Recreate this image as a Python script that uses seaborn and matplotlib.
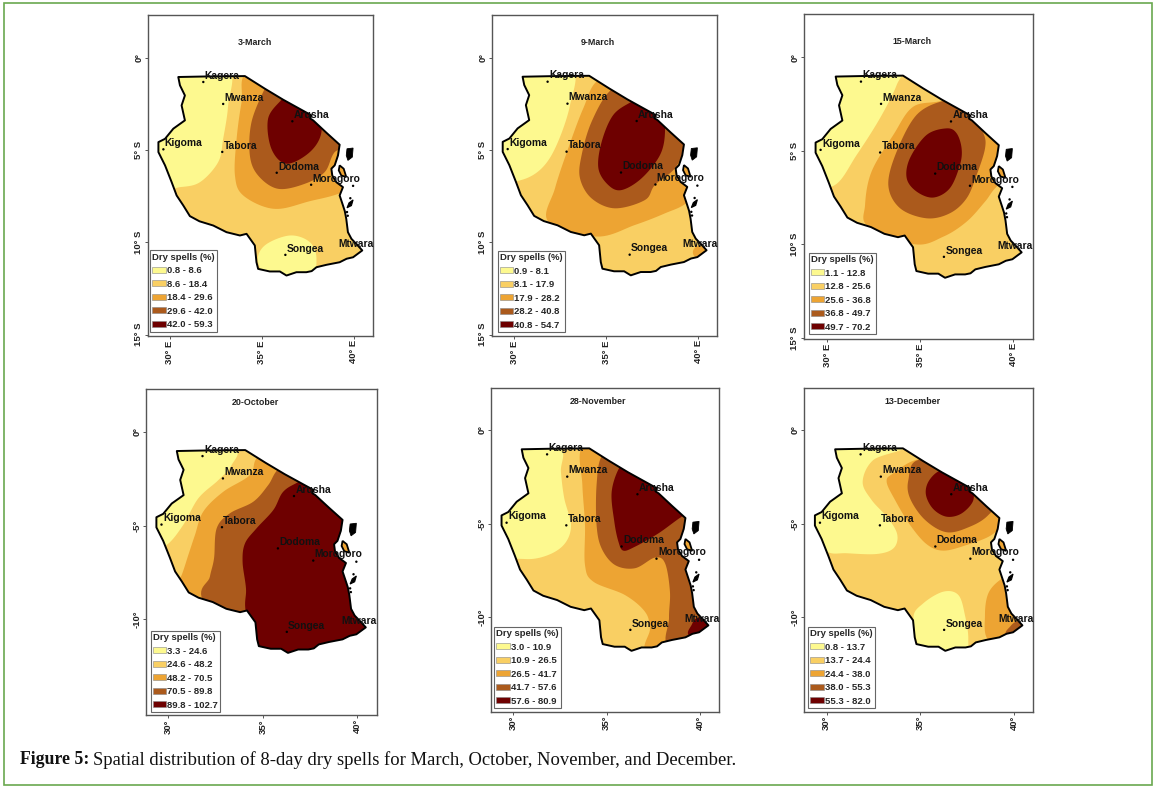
import numpy as np
import pandas as pd
import matplotlib
matplotlib.use("Agg")
import matplotlib.pyplot as plt
from matplotlib.patches import Polygon, Patch, Rectangle
import seaborn as sns

# ---------------- data (lon, lat) -----------------
COAST = [(30.45,-1.03),(32.0,-1.0),(34.07,-0.98),(35.15,-1.66),(36.15,-2.26),(37.69,-3.11),(37.62,-3.28),(37.78,-3.38),
 (38.5,-4.05),(39.22,-4.70),(39.13,-5.28),(38.95,-5.82),(38.77,-6.0),(38.82,-6.37),(39.04,-6.73),(39.40,-7.00),(39.22,-7.45),(39.40,-7.99),
 (39.5,-8.3),(39.58,-8.72),(39.67,-9.44),(39.86,-9.80),(40.1,-10.05),(40.45,-10.43),(39.95,-10.80),(39.6,-10.88),(39.22,-11.07),(38.50,-11.21),
 (37.96,-11.34),(37.7,-11.55),(37.41,-11.61),(36.87,-11.61),(36.33,-11.79),(35.97,-11.57),(35.42,-11.57),(34.79,-11.43),
 (34.70,-11.07),(34.61,-10.16),(34.16,-9.53),(33.80,-9.62),(33.07,-9.44),(32.35,-9.08),(31.6,-8.85),(31.08,-8.57),
 (30.72,-7.99),(30.36,-7.45),(30.09,-6.73),(29.73,-5.82),(29.37,-5.10),(29.37,-4.56),(29.73,-4.38),
 (30.18,-3.83),(30.81,-3.38),(30.63,-2.57),(30.81,-2.03),(30.54,-1.48)]
PEMBA = [(39.62,-4.92),(39.95,-4.88),(39.91,-5.37),(39.67,-5.55),(39.58,-5.28)]
ZANZIBAR = [(39.22,-5.82),(39.44,-6.0),(39.58,-6.45),(39.31,-6.37),(39.17,-6.09)]
MAFIA = [(39.95,-7.69),(39.86,-8.0),(39.62,-8.12),(39.73,-7.85)]
ISLET_LON = [39.80, 39.62, 39.66, 39.95]
ISLET_LAT = [-7.60, -8.35, -8.55, -6.93]

CITIES = ["Kagera","Mwanza","Arusha","Kigoma","Tabora","Dodoma","Morogoro","Songea"]
CITY_LON = [31.81,32.89,36.65,29.64,32.84,35.80,37.67,36.27]
CITY_LAT = [-1.30,-2.49,-3.43,-4.95,-5.09,-6.22,-6.87,-10.67]
MTWARA = ("Mtwara", 39.15, -10.10)

MAR3_Y1 = [(33.16,-0.58),(33.16,-2.57),(32.89,-4.38),(32.62,-5.64),(31.63,-6.73),(30.54,-7.0),(29.46,-7.0),(28.9,-4.38),(30.18,-0.58)]
MAR3_Y2 = [(34.79,-11.07),(35.15,-10.16),(36.51,-9.62),(37.6,-9.98),(37.96,-10.88),(37.6,-11.88),(35.6,-12.15)]
MAR3_O = [(34.25,-0.76),(33.89,-2.39),(33.62,-4.38),(33.53,-6.37),(33.98,-7.45),(35.6,-8.17),(37.41,-7.81),(39.95,-6.91),(41.03,-4.38),(37.41,-0.76)]
MAR3_B = [(35.15,-1.66),(34.43,-3.47),(34.34,-5.28),(34.79,-6.37),(35.87,-7.09),(37.32,-6.82),(38.41,-6.18),(38.95,-5.1),(39.95,-4.38),(37.41,-1.0),(35.6,-1.0)]
MAR3_D = [(36.06,-2.26),(35.33,-3.29),(35.51,-4.92),(36.33,-5.73),(37.6,-5.1),(38.23,-4.01),(37.96,-2.57),(36.51,-1.84)]

MAR9_Y = [(33.12,-0.58),(33.03,-2.56),(32.30,-4.73),(31.49,-5.99),(30.40,-6.62),(29.13,-6.62),(28.95,-4.37),(30.22,-0.58)]
MAR9_O = [(34.57,-1.21),(33.75,-2.74),(32.93,-4.91),(32.21,-7.08),(31.85,-8.88),(34.47,-9.69),(36.56,-9.06),(38.19,-8.43),(39.46,-7.80),(41.09,-6.17),(41.09,-2.56),(36.56,-0.76)]
MAR9_O2 = [(39.82,-10.78),(39.73,-10.42),(40.09,-10.18),(41.0,-10.32),(40.5,-11.05)]
MAR9_B = [(35.2,-1.80),(34.20,-3.47),(33.66,-5.27),(33.57,-6.53),(34.20,-7.62),(35.47,-8.16),(37.10,-7.71),(37.64,-6.90),(38.73,-5.99),(39.37,-4.73),(40.18,-3.29),(36.56,-1.30)]
MAR9_D = [(36.38,-2.38),(35.38,-3.10),(34.75,-4.55),(34.57,-5.99),(35.11,-6.90),(35.83,-7.17),(36.92,-6.53),(37.92,-5.27),(38.19,-4.01),(38.0,-2.92),(37.1,-2.02)]

MAR15_Y = [(33.82,-0.59),(33.73,-1.48),(32.83,-3.26),(31.58,-5.22),(30.41,-6.83),(28.89,-6.83),(28.89,-4.33),(30.32,-0.59)]
MAR15_O = [(36.24,-2.28),(34.62,-2.64),(33.55,-4.15),(32.38,-6.11),(32.03,-7.90),(32.20,-9.05),(34.71,-10.0),(36.24,-9.59),(37.49,-8.79),(38.48,-7.72),(39.19,-6.83),(41.08,-5.22),(40.18,-2.55),(37.49,-1.30)]
MAR15_B = [(36.24,-2.34),(34.80,-3.08),(33.73,-5.04),(33.28,-6.83),(33.91,-8.07),(35.34,-8.61),(36.59,-8.34),(37.49,-7.54),(38.03,-6.29),(38.48,-4.87),(38.39,-4.06),(37.76,-3.17),(37.13,-2.55)]
MAR15_D = [(36.42,-3.80),(35.34,-4.15),(34.44,-5.40),(34.27,-6.47),(34.80,-7.18),(35.70,-7.50),(36.59,-7.0),(37.13,-5.76),(37.22,-4.87),(36.95,-4.06)]

OCT20_Y = [(33.44,-0.89),(33.35,-1.78),(32.65,-2.58),(31.59,-3.55),(30.79,-4.97),(29.91,-6.04),(28.85,-6.39),(28.85,-3.73),(30.26,-0.53)]
OCT20_O = [(34.76,-1.33),(34.32,-2.31),(32.91,-3.20),(31.85,-4.26),(31.41,-5.51),(31.06,-6.57),(30.71,-7.64),(30.09,-9.24),(35.56,-13.5),(41.9,-9.95),(41.9,-1.07),(36.44,-0.53)]
OCT20_B = [(35.87,-1.95),(35.29,-2.84),(34.50,-3.73),(33.26,-4.35),(32.56,-5.15),(32.42,-6.75),(32.20,-7.73),(31.94,-9.24),(35.56,-13.5),(41.9,-9.95),(41.9,-2.84),(37.32,-1.07)]
OCT20_D = [(36.93,-2.66),(36.08,-3.20),(35.56,-4.17),(34.67,-5.15),(34.06,-5.95),(33.93,-6.93),(34.11,-8.35),(34.18,-9.95),(35.56,-13.5),(41.9,-9.95),(41.9,-3.73),(38.38,-1.95)]

NOV28_Y = [(32.5,-0.98),(32.55,-2.22),(32.73,-3.65),(33.09,-5.07),(32.77,-6.05),(31.88,-6.67),(30.63,-6.89),(29.02,-6.49),(28.93,-4.36),(30.27,-0.62)]
NOV28_O = [(33.70,-0.89),(33.70,-2.94),(33.84,-5.07),(33.84,-7.21),(34.29,-8.10),(35.98,-8.81),(37.05,-9.70),(37.32,-10.59),(37.36,-12.01),(42.0,-12.0),(42.0,-1.16),(35.63,-0.62)]
NOV28_B = [(34.73,-1.42),(34.46,-2.94),(34.46,-5.07),(34.73,-6.32),(35.45,-7.21),(36.52,-7.38),(37.59,-6.81),(38.13,-7.12),(38.39,-8.63),(38.34,-10.05),(38.45,-11.65),(42.0,-11.65),(42.0,-2.0),(35.63,-1.16)]
NOV28_D = [(35.71,-1.96),(35.27,-3.29),(35.41,-4.89),(35.63,-5.96),(35.89,-6.44),(36.52,-6.23),(37.77,-5.52),(39.02,-4.63),(39.91,-4.18),(37.77,-2.40),(36.34,-1.51)]
NOV28_D2 = [(39.43,-10.98),(39.55,-10.41),(39.91,-10.02),(40.98,-10.05),(40.8,-11.3)]

DEC13_Y1 = [(34.09,-0.89),(32.49,-1.60),(31.92,-2.76),(32.40,-3.74),(33.29,-4.72),(33.77,-5.60),(33.56,-6.32),(32.67,-6.62),(31.07,-6.58),(30.0,-6.49),(28.93,-5.43),(28.93,-3.47),(30.36,-0.44)]
DEC13_Y2 = [(34.63,-10.05),(35.16,-9.25),(36.23,-8.63),(37.03,-8.81),(37.38,-9.88),(37.56,-11.21),(37.30,-12.37),(35.16,-11.83)]
DEC13_O1 = [(34.98,-1.55),(33.56,-2.31),(33.20,-2.76),(33.65,-3.74),(34.45,-5.07),(35.34,-6.10),(36.23,-6.44),(37.47,-6.14),(38.81,-5.60),(39.61,-4.72),(40.14,-3.65),(37.47,-1.69)]
DEC13_O2 = [(39.25,-8.01),(38.63,-8.72),(38.45,-9.88),(38.63,-11.21),(40.14,-11.65),(41.39,-10.05),(39.96,-7.74)]
DEC13_B1 = [(34.89,-1.60),(34.36,-2.67),(34.45,-3.65),(35.25,-4.80),(36.41,-5.46),(37.65,-5.16),(38.63,-4.54),(39.25,-3.47),(37.47,-1.87)]
DEC13_B2 = [(39.61,-10.94),(39.79,-10.50),(40.23,-10.20),(41.21,-10.23),(40.85,-11.30)]
DEC13_D = [(36.01,-2.19),(35.43,-2.76),(35.30,-3.47),(35.69,-4.22),(36.41,-4.63),(37.21,-4.45),(37.83,-3.74),(37.65,-2.94),(36.76,-2.22)]

TITLES = ["3-March","9-March","15-March","20-October","28-November","13-December"]
CLASSES_MAR3 = ["0.8 - 8.6","8.6 - 18.4","18.4 - 29.6","29.6 - 42.0","42.0 - 59.3"]
CLASSES_MAR9 = ["0.9 - 8.1","8.1 - 17.9","17.9 - 28.2","28.2 - 40.8","40.8 - 54.7"]
CLASSES_MAR15 = ["1.1 - 12.8","12.8 - 25.6","25.6 - 36.8","36.8 - 49.7","49.7 - 70.2"]
CLASSES_OCT20 = ["3.3 - 24.6","24.6 - 48.2","48.2 - 70.5","70.5 - 89.8","89.8 - 102.7"]
CLASSES_NOV28 = ["3.0 - 10.9","10.9 - 26.5","26.5 - 41.7","41.7 - 57.6","57.6 - 80.9"]
CLASSES_DEC13 = ["0.8 - 13.7","13.7 - 24.4","24.4 - 38.0","38.0 - 55.3","55.3 - 82.0"]

COLORS = ["#FDF98F","#F9CF63","#EDA433","#AB5A1C","#6E0000"]
CAPTION_HEAD = "Figure 5:"
CAPTION_BODY = "Spatial distribution of 8-day dry spells for March, October, November, and December."

# ---------------- layout -----------------
W, H = 1158, 790
LAYOUT = [
 (148,373,15,336,170,354,58,242.5,150,331.7,255,42.7),
 (492,717,15,336,514.3,698.3,57.7,242.3,497.7,332,598,42.7),
 (804,1033,14,339,827.3,1013.3,57.3,244.3,808.7,334,912,42),
 (146.5,377,389,715,168.3,357.3,431.7,619.3,150.7,712,255,402),
 (491,719,388,711.7,513.3,700,430,617.3,494,708,598,401),
 (804,1033,388,711.7,826.7,1014,430,617.3,808,708,913,401),
]
ZONES = [
 [(0,MAR3_Y1),(0,MAR3_Y2),(2,MAR3_O),(3,MAR3_B),(4,MAR3_D)],
 [(0,MAR9_Y),(2,MAR9_O),(2,MAR9_O2),(3,MAR9_B),(4,MAR9_D)],
 [(0,MAR15_Y),(2,MAR15_O),(3,MAR15_B),(4,MAR15_D)],
 [(0,OCT20_Y),(2,OCT20_O),(3,OCT20_B),(4,OCT20_D)],
 [(0,NOV28_Y),(2,NOV28_O),(3,NOV28_B),(4,NOV28_D),(4,NOV28_D2)],
 [(0,DEC13_Y1),(0,DEC13_Y2),(2,DEC13_O1),(2,DEC13_O2),(3,DEC13_B1),(3,DEC13_B2),(4,DEC13_D)],
]
CLASSES = [CLASSES_MAR3,CLASSES_MAR9,CLASSES_MAR15,CLASSES_OCT20,CLASSES_NOV28,CLASSES_DEC13]

sns.set_theme(style="white", rc={"xtick.bottom":True,"ytick.left":True,"axes.linewidth":1.0,"axes.edgecolor":"#555555"})
plt.rcParams["font.family"] = ["Liberation Sans","DejaVu Sans"]
palette = sns.color_palette(COLORS)

def smooth(pts, n=12):
    p = np.array(pts, float)
    out = []
    m = len(p)
    for i in range(m):
        p0,p1,p2,p3 = p[(i-1)%m],p[i],p[(i+1)%m],p[(i+2)%m]
        for t in np.linspace(0,1,n,endpoint=False):
            out.append(0.5*((2*p1)+(-p0+p2)*t+(2*p0-5*p1+4*p2-p3)*t**2+(-p0+3*p1-3*p2+p3)*t**3))
    return np.array(out)

fig = plt.figure(figsize=(W/100,H/100), dpi=100, facecolor="white")
fig.add_artist(Rectangle((4/W,1-785/H),1148/W,782/H,transform=fig.transFigure,fill=False,edgecolor="#6AA84F",lw=1.2))

cities = pd.DataFrame({"lon":CITY_LON,"lat":CITY_LAT})
islets = pd.DataFrame({"lon":ISLET_LON,"lat":ISLET_LAT})
TICK = dict(rotation=90,fontsize=6.8,fontweight="bold",color="#222222")

for i,(l,r,t,b,x30,x40,y0,y10,lx,ly,tx,ty) in enumerate(LAYOUT):
    ax = fig.add_axes([l/W,1-b/H,(r-l)/W,(b-t)/H])
    sx = (x40-x30)/10; sy = (y10-y0)/10
    ax.set_xlim(30-(x30-l)/sx, 30+(r-x30)/sx)
    ax.set_ylim(-(b-y0)/sy, (y0-t)/sy)
    base = Polygon(COAST, closed=True, facecolor=palette[1], edgecolor="none", zorder=1)
    ax.add_patch(base)
    for lvl,pts in ZONES[i]:
        pg = Polygon(smooth(pts), closed=True, facecolor=palette[lvl], edgecolor="none", zorder=2)
        ax.add_patch(pg)
        pg.set_clip_path(base)
    ax.add_patch(Polygon(COAST, closed=True, fill=False, edgecolor="black", lw=1.4, zorder=3, joinstyle="round"))
    ax.add_patch(Polygon(PEMBA, closed=True, facecolor="black", edgecolor="black", lw=0.6, zorder=3))
    ax.add_patch(Polygon(ZANZIBAR, closed=True, facecolor=palette[2], edgecolor="black", lw=1.3, zorder=3))
    ax.add_patch(Polygon(MAFIA, closed=True, facecolor="black", edgecolor="black", lw=0.8, zorder=3))
    sns.scatterplot(data=islets,x="lon",y="lat",ax=ax,s=3,color="black",edgecolor="none",zorder=3,legend=False)
    sns.scatterplot(data=cities,x="lon",y="lat",ax=ax,s=3,color="black",edgecolor="none",zorder=4,legend=False)
    for n,lo,la in zip(CITIES,CITY_LON,CITY_LAT):
        ax.annotate(n,(lo,la),xytext=(1,4.5),textcoords="offset points",fontsize=7.4,fontweight="bold",color="#111111",va="center",ha="left",zorder=5)
    ax.annotate(MTWARA[0],(MTWARA[1],MTWARA[2]),fontsize=7.4,fontweight="bold",color="#111111",va="center",ha="left",zorder=5)
    ax.set_xlabel(""); ax.set_ylabel("")
    top = i<3
    ax.set_xticks([30,35,40]); ax.set_xticklabels([f"{v}° E" if top else f"{v}°" for v in (30,35,40)],**TICK)
    if top:
        ax.set_yticks([0,-5,-10,-15]); ax.set_yticklabels(["0°","5° S","10° S","15° S"],va="center",**TICK)
    else:
        ax.set_yticks([0,-5,-10]); ax.set_yticklabels(["0°","-5°","-10°"],va="center",**TICK)
    ax.tick_params(axis="x",length=2,width=0.7,pad=1,color="#555555")
    ax.tick_params(axis="y",length=2,width=0.7,pad=1.5,color="#555555")
    handles = [Patch(facecolor=c,edgecolor="#888888",lw=0.4,label=lab) for c,lab in zip(palette,CLASSES[i])]
    leg = ax.legend(handles=handles,title="Dry spells (%)",loc="lower left",bbox_to_anchor=(lx/W,1-ly/H),bbox_transform=fig.transFigure,
        borderaxespad=0,frameon=True,fancybox=False,framealpha=1,edgecolor="#666666",facecolor="white",
        prop={"size":6.8,"weight":"bold"},title_fontproperties={"size":6.8,"weight":"bold"},alignment="left",
        handlelength=1.4,handleheight=0.6,handletextpad=0.1,labelspacing=0.48,borderpad=0.25)
    leg.get_frame().set_linewidth(0.8)
    leg.set_zorder(6)
    fig.text(tx/W,1-ty/H,TITLES[i],fontsize=6.4,fontweight="bold",ha="center",va="center",color="#222222")

fig.text(20/W,1-760/H,CAPTION_HEAD,family="Liberation Serif",fontsize=12.8,fontweight="bold",ha="left",va="center",color="#111111")
fig.text(93/W,1-760/H,CAPTION_BODY,family="Liberation Serif",fontsize=13.4,ha="left",va="center",color="#111111")
fig.savefig("out.png",dpi=100)
